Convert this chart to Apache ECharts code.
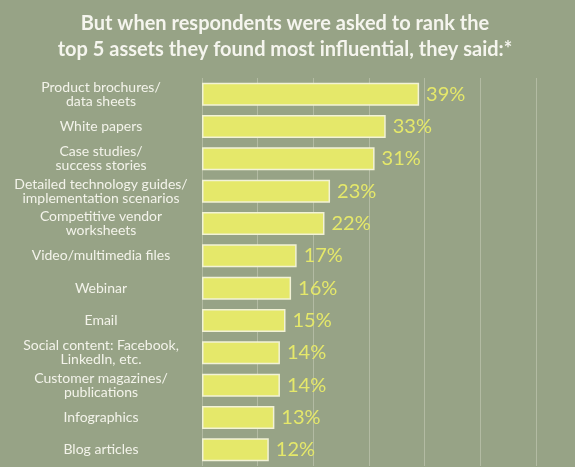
<!DOCTYPE html>
<html>
<head>
<meta charset="utf-8">
<script src="https://cdn.jsdelivr.net/npm/echarts@6/dist/echarts.min.js"></script>
<style>
html,body{margin:0;padding:0;background:#97a386;}
#chart{width:575px;height:467px;}
</style>
</head>
<body>
<div id="chart"></div>
<script>
const titleLines = ['But when respondents were asked to rank the', 'top 5 assets they found most influential, they said:*'];
const categories = [
  'Product brochures/\ndata sheets',
  'White papers',
  'Case studies/\nsuccess stories',
  'Detailed technology guides/\nimplementation scenarios',
  'Competitive vendor\nworksheets',
  'Video/multimedia files',
  'Webinar',
  'Email',
  'Social content: Facebook,\nLinkedIn, etc.',
  'Customer magazines/\npublications',
  'Infographics',
  'Blog articles'
];
const values = [39, 33, 31, 23, 22, 17, 16, 15, 14, 14, 13, 12];

const chart = echarts.init(document.getElementById('chart'));
chart.setOption({
  backgroundColor: '#97a386',
  animation: false,
  title: {
    text: titleLines.join('\n'),
    left: 280,
    top: 6,
    textAlign: 'center',
    textStyle: {
      fontFamily: 'Lato',
      fontWeight: 'bold',
      fontSize: 20,
      lineHeight: 26,
      color: '#f5f5ee'
    }
  },
  grid: { left: 202, right: 0, top: 78, bottom: 1, containLabel: false },
  xAxis: {
    type: 'value',
    min: 0,
    max: 67,
    interval: 10,
    axisLabel: { show: false },
    axisLine: { show: false },
    axisTick: { show: false },
    splitLine: { show: true, lineStyle: { color: '#b3bba3', width: 1 } }
  },
  yAxis: {
    type: 'category',
    inverse: true,
    data: categories,
    axisLine: { show: false },
    axisTick: { show: false },
    axisLabel: {
      margin: 101,
      align: 'center',
      fontFamily: 'Lato',
      fontSize: 14,
      lineHeight: 14,
      color: '#f3f3ea'
    }
  },
  series: [{
    type: 'bar',
    data: values,
    barWidth: 23,
    itemStyle: { color: '#e5e86a', borderColor: '#f2f2d6', borderWidth: 1.5 },
    label: {
      show: true,
      position: 'right',
      distance: 7,
      formatter: '{c}%',
      fontFamily: 'Lato',
      fontSize: 20,
      color: '#e5e86a'
    }
  }]
});
</script>
</body>
</html>
